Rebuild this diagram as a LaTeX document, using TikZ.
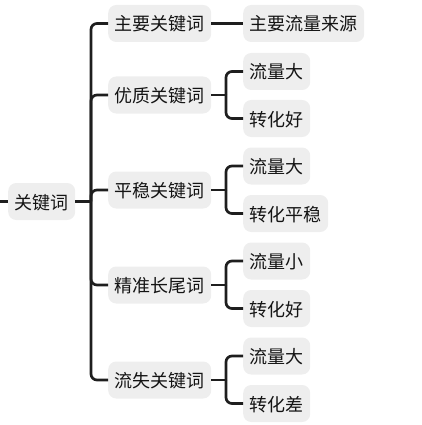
\documentclass[tikz,border=0pt]{standalone}
\usepackage{fontspec}
\newfontfamily\cjk{Noto Sans CJK SC}
\definecolor{boxfill}{HTML}{EEEEEE}
\definecolor{linec}{HTML}{1E1E1E}
\definecolor{textc}{HTML}{141414}
\tikzset{
  topic/.style={fill=boxfill, rounded corners=8pt, anchor=west, inner xsep=6.5pt, inner ysep=0pt,
    minimum height=37pt, text=textc, font=\cjk\fontsize{18pt}{18pt}\selectfont,
    text height=16.5pt, text depth=1.5pt},
  conn/.style={draw=linec, line width=2.7pt, rounded corners=6pt},
}
\begin{document}
\begin{tikzpicture}[x=1pt,y=-1pt]
\useasboundingbox (0,0) rectangle (421,425);
% nodes
\node[topic] (root) at (8,201.5) {关键词};
\node[topic] (a) at (108,23.5) {主要关键词};
\node[topic] (b) at (108,95) {优质关键词};
\node[topic] (c) at (108,190) {平稳关键词};
\node[topic] (d) at (108,285) {精准长尾词};
\node[topic] (e) at (108,380) {流失关键词};
\node[topic] (a1) at (243,23.5) {主要流量来源};
\node[topic] (b1) at (243,71.5) {流量大};
\node[topic] (b2) at (243,118.5) {转化好};
\node[topic] (c1) at (243,166) {流量大};
\node[topic] (c2) at (243,213.5) {转化平稳};
\node[topic] (d1) at (243,261) {流量小};
\node[topic] (d2) at (243,308.5) {转化好};
\node[topic] (e1) at (243,356) {流量大};
\node[topic] (e2) at (243,403.5) {转化差};
% junction coordinates
\coordinate (lstub) at (0,201.5);
\coordinate (jr) at (91,201.5);
\coordinate (jb) at (226,95);
\coordinate (jc) at (226,190);
\coordinate (jd) at (226,285);
\coordinate (je) at (226,380);
% connectors
\draw[conn] (lstub) -- (root.west);
\draw[conn] (root.east) -- (jr);
\foreach \n in {a,b,c,d,e} { \draw[conn] (jr) |- (\n.west); }
\draw[conn] (a.east) -- (a1.west);
\draw[conn] (b.east) -- (jb);
\draw[conn] (c.east) -- (jc);
\draw[conn] (d.east) -- (jd);
\draw[conn] (e.east) -- (je);
\draw[conn] (jb) |- (b1.west);
\draw[conn] (jb) |- (b2.west);
\draw[conn] (jc) |- (c1.west);
\draw[conn] (jc) |- (c2.west);
\draw[conn] (jd) |- (d1.west);
\draw[conn] (jd) |- (d2.west);
\draw[conn] (je) |- (e1.west);
\draw[conn] (je) |- (e2.west);
\end{tikzpicture}
\end{document}
